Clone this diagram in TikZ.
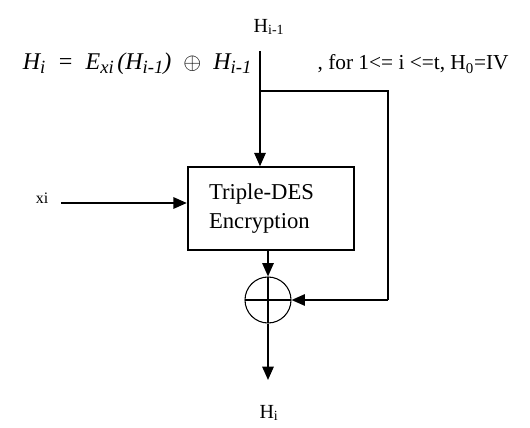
\documentclass[tikz,border=0pt]{standalone}
\usepackage{amsmath,amssymb}
\usepackage{xcolor}
\usepackage{fontspec}
\setmainfont{Liberation Serif}
\usetikzlibrary{arrows.meta}

\newcommand{\sbs}[1]{\raisebox{-0.3ex}{\fontsize{14}{15}\selectfont #1}}

\tikzset{
  flow/.style={line width=1.3pt, -{Triangle[length=10pt,width=8.5pt]}},
  wire/.style={line width=1.3pt},
  encbox/.style={draw, line width=1.3pt, text width=93pt, inner xsep=16pt,
    minimum height=62pt, align=left, font=\fontsize{17}{22}\selectfont},
  xorc/.style={draw, circle, line width=0.8pt, minimum size=34.5pt, inner sep=0pt,
    path picture={
      \draw[line width=0.9pt] (path picture bounding box.north) -- (path picture bounding box.south);
      \draw[line width=0.9pt] (path picture bounding box.west) -- (path picture bounding box.east);}},
  lbl/.style={inner sep=1pt, font=\fontsize{15}{17}\selectfont},
  eqn/.style={inner sep=1pt, font=\fontsize{18}{20}\selectfont}
}

\begin{document}
\begin{tikzpicture}[x=0.75pt, y=-0.75pt]
  \useasboundingbox (0,0) rectangle (530,427);

  % labels and formula
  \node[lbl] (hprev) at (269,27) {H\textsubscript{i-1}};
  \node[eqn, anchor=east] (eq) at (253,64)
    {\itshape H\sbs{i}\hspace{0.5em}=\hspace{0.5em}E\sbs{xi}\hspace{0.15em}(H\sbs{i-1})\hspace{0.5em}$\oplus$\hspace{0.5em}H\sbs{i-1}};
  \node[eqn, anchor=west, font=\fontsize{16}{18}\selectfont] (cond) at (316,64) {, for 1<= i <=t, H\textsubscript{0}=IV};

  % blocks
  \node[encbox] (enc) at (271,208.5) {Triple-DES\\Encryption};
  \node[xorc] (xor) at (268,300) {};
  \node[lbl, font=\fontsize{12}{14}\selectfont] (xi) at (42,198) {xi};
  \node[lbl] (hi) at (269,413) {H\textsubscript{i}};

  \coordinate (top) at (260,51);
  \coordinate (branch) at (260,91);
  \coordinate (cr1) at (388,91);
  \coordinate (cr2) at (388,300);
  \coordinate (xin) at (61,203);
  \coordinate (out) at (268,380);

  % connectors
  \draw[flow] (top) -- (top |- enc.north);
  \draw[flow] (xin) -- (enc.west |- xin);
  \draw[flow] (xor |- enc.south) -- (xor.north);
  \draw[wire] (branch) -- (cr1) -- (cr2);
  \draw[flow] (cr2) -- (xor.east);
  \draw[flow] (xor.south) -- (out);
\end{tikzpicture}
\end{document}
